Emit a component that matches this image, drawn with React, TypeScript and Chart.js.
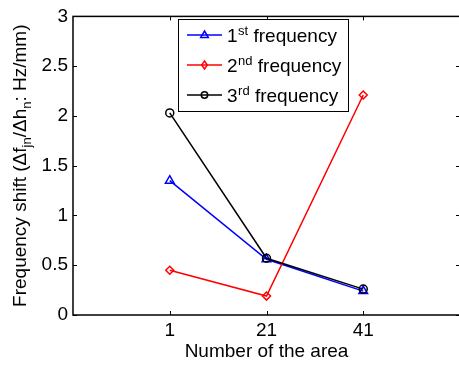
import React, { useEffect, useRef } from 'react';
import { Chart, registerables } from 'chart.js';
Chart.register(...registerables);

const areas = [1, 21, 41];
const freq1 = [1.35, 0.56, 0.24];
const freq2 = [0.45, 0.19, 2.21];
const freq3 = [2.03, 0.57, 0.26];
const xTicks = [1, 21, 41];
const xTickLabels = ['1', '21', '41'];
const yTicks = [0, 0.5, 1, 1.5, 2, 2.5, 3];
const yTickLabels = ['0', '0.5', '1', '1.5', '2', '2.5', '3'];
const legendBase = ['1', '2', '3'];
const legendSup = ['st', 'nd', 'rd'];
const legendRest = ' frequency';
const seriesColors = ['#0000ff', '#ff0000', '#000000'];
const seriesMarkers = ['triangle', 'rectRot', 'circle'];
const markerRadius = [5, 4, 4];
const xTitle = 'Number of the area';
const yTitleParts: { t: string; sub: boolean }[] = [
  { t: 'Frequency shift (\u0394f', sub: false },
  { t: 'jn', sub: true },
  { t: '/\u0394h', sub: false },
  { t: 'n', sub: true },
  { t: ': Hz/mm)', sub: false },
];

const FONT = '"Liberation Sans", Arial, Helvetica, sans-serif';

function drawMarker(ctx: CanvasRenderingContext2D, kind: string, x: number, y: number, r: number, color: string) {
  ctx.save();
  ctx.strokeStyle = color;
  ctx.lineWidth = 1.5;
  ctx.beginPath();
  if (kind === 'triangle') {
    ctx.moveTo(x, y - r);
    ctx.lineTo(x + r * 0.95, y + r * 0.6);
    ctx.lineTo(x - r * 0.95, y + r * 0.6);
    ctx.closePath();
  } else if (kind === 'rectRot') {
    ctx.moveTo(x, y - r);
    ctx.lineTo(x + r * 0.7, y);
    ctx.lineTo(x, y + r);
    ctx.lineTo(x - r * 0.7, y);
    ctx.closePath();
  } else {
    ctx.arc(x, y, r * 0.8, 0, Math.PI * 2);
  }
  ctx.stroke();
  ctx.restore();
}

const decorPlugin = {
  id: 'decor',
  afterDraw(chart: any) {
    const ctx: CanvasRenderingContext2D = chart.ctx;
    const { left, right, top, bottom } = chart.chartArea;
    const xs = chart.scales.x;
    const ys = chart.scales.y;
    ctx.save();
    ctx.strokeStyle = '#000';
    ctx.lineWidth = 1.5;
    ctx.strokeRect(left, top, right - left, bottom - top);
    ctx.lineWidth = 1;
    const tl = 4;
    ctx.beginPath();
    xTicks.forEach((v) => {
      const px = Math.round(xs.getPixelForValue(v)) + 0.5;
      ctx.moveTo(px, bottom);
      ctx.lineTo(px, bottom - tl);
      ctx.moveTo(px, top);
      ctx.lineTo(px, top + tl);
    });
    yTicks.forEach((v) => {
      const py = Math.round(ys.getPixelForValue(v)) + 0.5;
      ctx.moveTo(left, py);
      ctx.lineTo(left + tl, py);
      ctx.moveTo(right, py);
      ctx.lineTo(right - tl, py);
    });
    ctx.stroke();

    ctx.fillStyle = '#000';
    ctx.font = `19px ${FONT}`;
    ctx.textAlign = 'center';
    ctx.textBaseline = 'alphabetic';
    ctx.fillText(xTitle, (left + right) / 2, 357);

    const mainSize = 19;
    const subSize = 13;
    let total = 0;
    yTitleParts.forEach((p) => {
      ctx.font = `${p.sub ? subSize : mainSize}px ${FONT}`;
      total += ctx.measureText(p.t).width;
    });
    ctx.save();
    ctx.translate(26, (top + bottom) / 2);
    ctx.rotate(-Math.PI / 2);
    ctx.textAlign = 'left';
    let cx = -total / 2;
    yTitleParts.forEach((p) => {
      ctx.font = `${p.sub ? subSize : mainSize}px ${FONT}`;
      ctx.fillText(p.t, cx, p.sub ? 5 : 0);
      cx += ctx.measureText(p.t).width;
    });
    ctx.restore();

    const lx0 = 178.5, ly0 = 19.5, lx1 = 348.5, ly1 = 111.5;
    ctx.fillStyle = '#fff';
    ctx.fillRect(lx0, ly0, lx1 - lx0, ly1 - ly0);
    ctx.strokeStyle = '#000';
    ctx.lineWidth = 1;
    ctx.strokeRect(lx0, ly0, lx1 - lx0, ly1 - ly0);
    legendBase.forEach((b, i) => {
      const ry = 35 + i * 30;
      ctx.strokeStyle = seriesColors[i];
      ctx.lineWidth = 1.5;
      ctx.beginPath();
      ctx.moveTo(187, ry);
      ctx.lineTo(222, ry);
      ctx.stroke();
      drawMarker(ctx, seriesMarkers[i], 204.5, ry, 4, seriesColors[i]);
      ctx.fillStyle = '#000';
      ctx.textAlign = 'left';
      let tx = 227;
      ctx.font = `19px ${FONT}`;
      ctx.fillText(b, tx, ry + 7);
      tx += ctx.measureText(b).width + 0.5;
      ctx.font = `13px ${FONT}`;
      ctx.fillText(legendSup[i], tx, ry - 0.5);
      tx += ctx.measureText(legendSup[i]).width;
      ctx.font = `19px ${FONT}`;
      ctx.fillText(legendRest, tx, ry + 7);
    });
    ctx.restore();
  },
};

export default function App() {
  const ref = useRef<HTMLCanvasElement | null>(null);
  useEffect(() => {
    if (!ref.current) return;
    const mk = (vals: number[]) => areas.map((x, i) => ({ x, y: vals[i] }));
    const series = [freq1, freq2, freq3];
    const labels = legendBase.map((b, i) => b + legendSup[i] + legendRest);
    const chart = new Chart(ref.current, {
      type: 'line',
      data: {
        datasets: series.map((vals, i) => ({
          label: labels[i],
          data: mk(vals),
          borderColor: seriesColors[i],
          borderWidth: 1.5,
          pointStyle: seriesMarkers[i] as any,
          pointRadius: markerRadius[i],
          pointBorderColor: seriesColors[i],
          pointBackgroundColor: 'rgba(0,0,0,0)',
          pointBorderWidth: 1.5,
          tension: 0,
          order: 3 - i,
        })),
      },
      options: {
        responsive: false,
        animation: false,
        layout: { padding: { top: 13, right: 10, left: 0, bottom: 0 } },
        plugins: { legend: { display: false }, tooltip: { enabled: false } },
        scales: {
          x: {
            type: 'linear',
            min: -19,
            max: 61,
            afterBuildTicks: (s: any) => {
              s.ticks = xTicks.map((v) => ({ value: v }));
            },
            afterFit: (s: any) => {
              s.height = 50;
            },
            grid: { display: false, drawTicks: false },
            border: { display: false },
            ticks: {
              color: '#000',
              font: { family: FONT, size: 19 },
              padding: 4,
              maxRotation: 0,
              autoSkip: false,
              callback: (v: any) => {
                const k = xTicks.indexOf(Number(v));
                return k >= 0 ? xTickLabels[k] : '';
              },
            },
          },
          y: {
            type: 'linear',
            min: 0,
            max: 3,
            afterBuildTicks: (s: any) => {
              s.ticks = yTicks.map((v) => ({ value: v }));
            },
            afterFit: (s: any) => {
              s.width = 73;
            },
            grid: { display: false, drawTicks: false },
            border: { display: false },
            ticks: {
              color: '#000',
              font: { family: FONT, size: 19 },
              padding: 5,
              autoSkip: false,
              callback: (v: any) => {
                const k = yTicks.indexOf(Number(v));
                return k >= 0 ? yTickLabels[k] : '';
              },
            },
          },
        },
      },
      plugins: [decorPlugin],
    });
    return () => chart.destroy();
  }, []);
  return (
    <div style={{ position: 'absolute', left: 0, top: 0, width: 459, height: 365, overflow: 'hidden', background: '#fff' }}>
      <canvas ref={ref} width={470} height={365} style={{ display: 'block' }} />
    </div>
  );
}
